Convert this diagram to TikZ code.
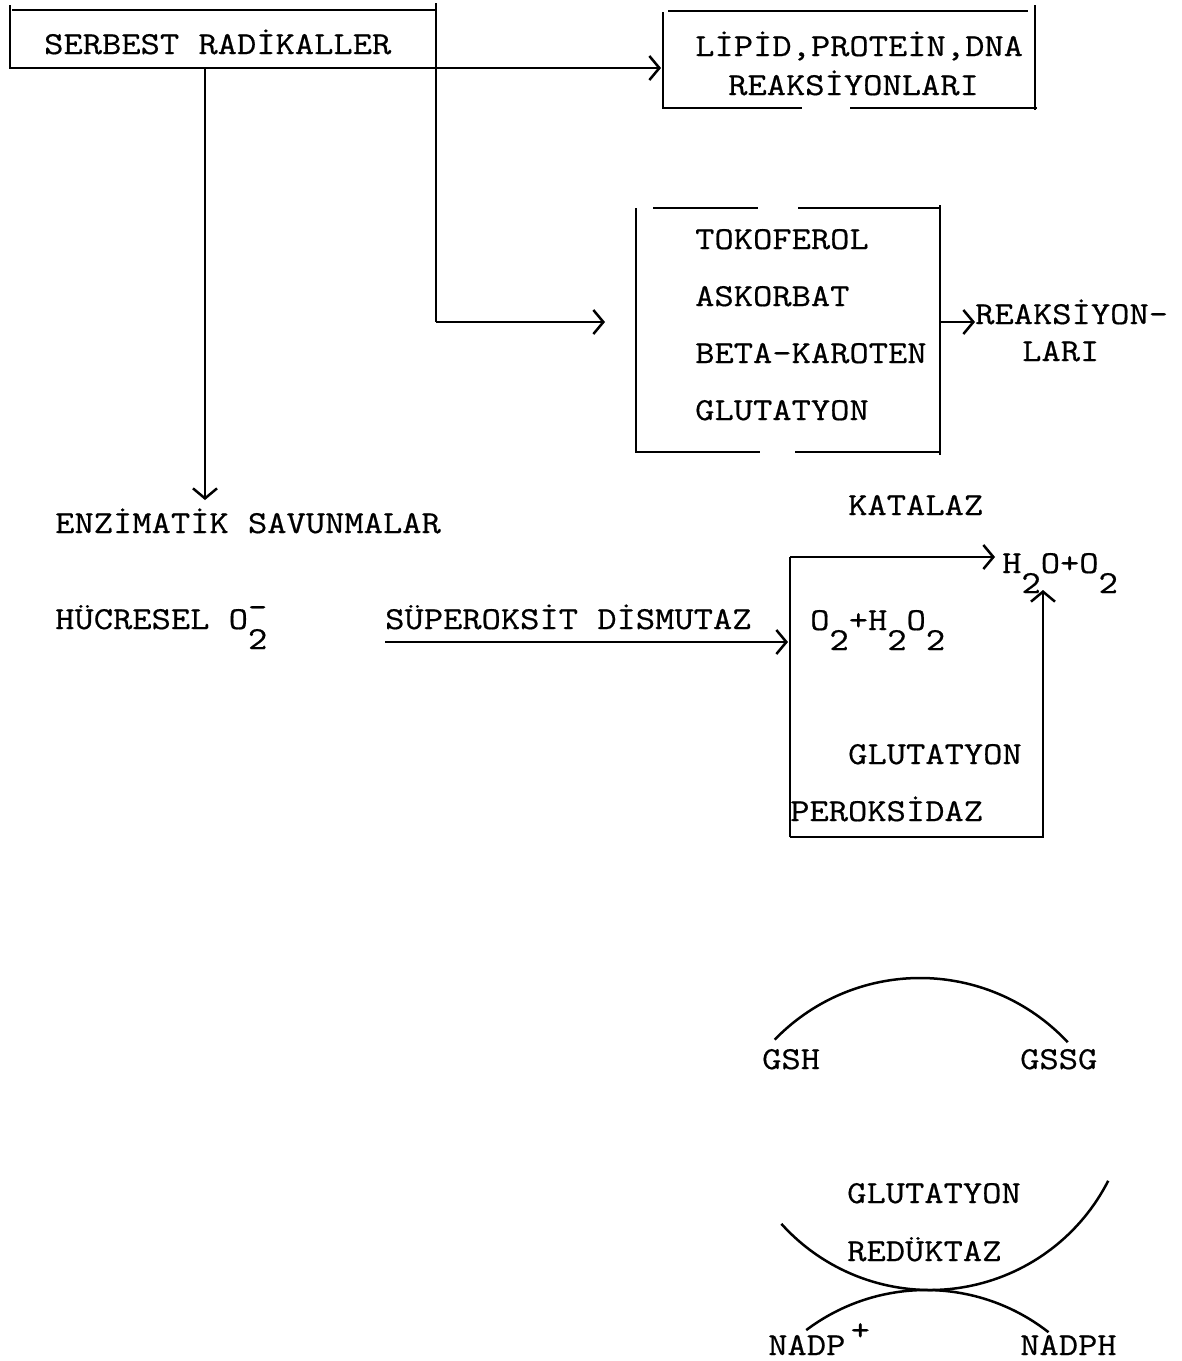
\documentclass[tikz,border=0pt]{standalone}
\usepackage{fontspec}
\newfontfamily\tw[FakeStretch=1.17,FakeBold=0.6]{Latin Modern Mono}
\usetikzlibrary{arrows.meta}
\newcommand{\lo}[1]{\raisebox{-20pt}{#1}}
\newcommand{\hi}[1]{\raisebox{15pt}{#1}}

\begin{document}
\begin{tikzpicture}[x=1pt,y=-1pt,
  lbl/.style={anchor=base west,inner sep=0pt,font=\tw\fontsize{32}{38}\selectfont},
  ln/.style={line width=2.5pt},
  arr/.style={ln,-{Straight Barb[length=10pt,width=24pt]}}]
\useasboundingbox (0,0) rectangle (1182,1361);

% serbest radikaller
\node[lbl] (sr) at (44,54) {SERBEST RADİKALLER};
\coordinate (srA) at (436,68);
\coordinate (srB) at (436,322);
\coordinate (srC) at (205,68);
\draw[ln] (10,5) -- (10,68) -- (srA);
\draw[ln] (12,10) -- (436,10);
\draw[ln] (436,3) -- (srB);

% lipid box
\node[lbl] (lip) at (695,56) {LİPİD,PROTEİN,DNA};
\node[lbl] (lipr) at (728,95) {REAKSİYONLARI};
\coordinate (lipIn) at (661,68);
\draw[ln] (663,12) -- (663,108) -- (802,108);
\draw[ln] (850,108) -- (1037,108);
\draw[ln] (668,11) -- (1028,11);
\draw[ln] (1035,5) -- (1035,110);
\draw[arr] (srA) -- (lipIn);

% antioksidanlar
\node[lbl] (tok) at (695,249) {TOKOFEROL};
\node[lbl] (ask) at (695,306) {ASKORBAT};
\node[lbl] (bet) at (695,363) {BETA-KAROTEN};
\node[lbl] (glu) at (695,420) {GLUTATYON};
\node[lbl] (rea) at (975,324) {REAKSİYON-};
\node[lbl] (lar) at (1022,361) {LARI};
\coordinate (tokIn) at (605,322);
\coordinate (tokOut) at (940,322);
\draw[ln] (636,208) -- (636,452) -- (760,452);
\draw[ln] (795,452) -- (940,452);
\draw[ln] (653,208) -- (758,208);
\draw[ln] (798,208) -- (940,208);
\draw[ln] (940,205) -- (940,455);
\draw[arr] (srB) -- (tokIn);
\draw[arr] (tokOut) -- (rea.base west |- tokOut);

% enzimatik savunmalar
\node[lbl] (enz) at (55,533) {ENZİMATİK SAVUNMALAR};
\coordinate (enzIn) at (205,500);
\draw[arr] (srC) -- (enzIn);
\node[lbl] (kat) at (848,515) {KATALAZ};
\node[lbl] (hcr) at (55,629) {HÜCRESEL O\rlap{\raisebox{12pt}{-}}\lo{2}};
\node[lbl] (sod) at (385,629) {SÜPEROKSİT DİSMUTAZ};
\node[lbl] (per) at (810,630) {O\lo{2}+H\lo{2}O\lo{2}};
\node[lbl] (h2o) at (1002,573) {H\lo{2}O+O\lo{2}};
\node[lbl] (gpx) at (848,764) {GLUTATYON};
\node[lbl] (gpy) at (790,821) {PEROKSİDAZ};
\coordinate (sodA) at (385,642);
\coordinate (sodB) at (788,642);
\coordinate (bxNW) at (790,557);
\coordinate (bxSW) at (790,837);
\coordinate (bxSE) at (1043,837);
\coordinate (katB) at (995,557);
\coordinate (gpB) at (1043,590);
\draw[arr] (sodA) -- (sodB);
\draw[ln] (bxSW) -- (bxNW);
\draw[arr] (bxNW) -- (katB);
\draw[arr] (bxSW) -- (bxSE) -- (gpB);

% glutatyon redüktaz
\node[lbl] (gsh) at (762,1069) {GSH};
\node[lbl] (gssg) at (1020,1069) {GSSG};
\node[lbl] (grd) at (847,1203) {GLUTATYON};
\node[lbl] (gre) at (847,1261) {REDÜKTAZ};
\node[lbl] (nadp) at (768,1355) {NADP\,\hi{+}};
\node[lbl] (nadph) at (1020,1355) {NADPH};
\draw[ln] (920,1180) ++(224:202) arc[start angle=224,end angle=317,radius=202];
\draw[ln] (930,1090) ++(138:200) arc[start angle=138,end angle=27,radius=200];
\draw[ln] (926,1489) ++(233:199) arc[start angle=233,end angle=308,radius=199];
\end{tikzpicture}
\end{document}
